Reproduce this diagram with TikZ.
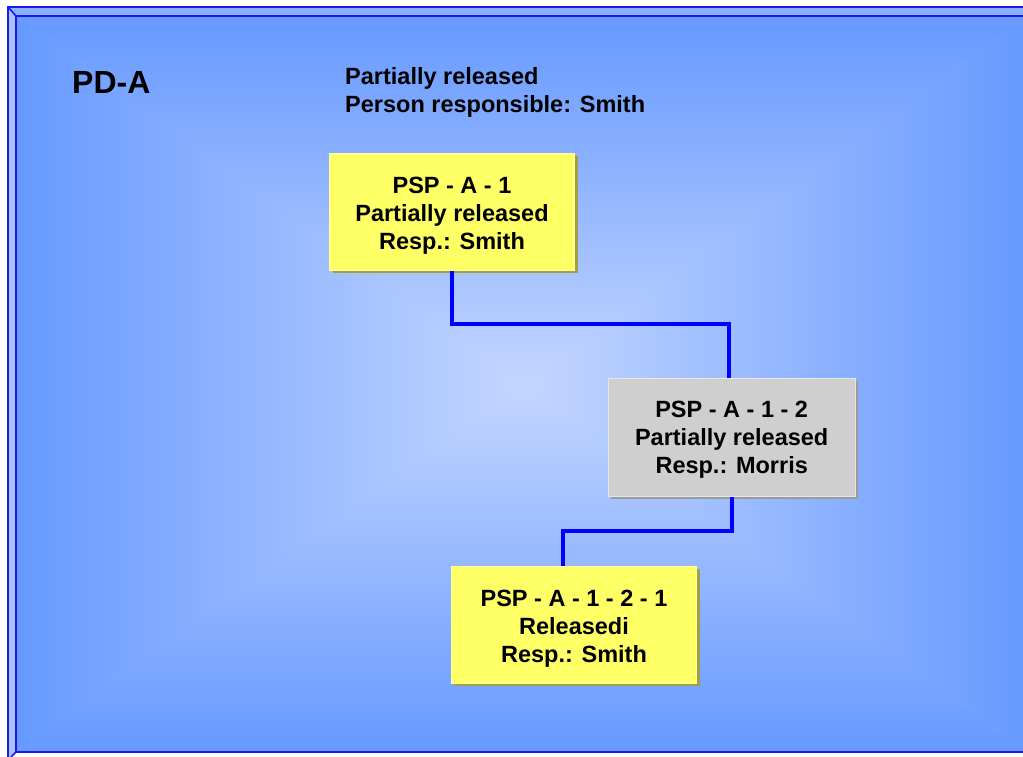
\documentclass[tikz,border=0pt]{standalone}
\usepackage{fontspec}
\setmainfont{Liberation Sans}
\begin{document}
\begin{tikzpicture}[x=1pt,y=-1pt,
  lbl/.style={font=\bfseries\fontsize{23.5}{28}\selectfont, inner sep=0pt, align=left},
  boxy/.style={fill=boxyellow, draw=boxyellow!60!white, line width=0.8pt, minimum width=245pt, minimum height=117pt, inner sep=0pt},
  boxg/.style={boxy, fill=boxgray, draw=boxgray!50!white},
  boxtxt/.style={inner sep=0pt, align=center, font=\bfseries\fontsize{23.5}{28}\selectfont},
  conn/.style={draw=connblue, line width=4pt, line join=miter},
  frameline/.style={draw=frameblue, line width=1.6pt}
]
\definecolor{edgeblue}{HTML}{6699FF}
\definecolor{centerblue}{HTML}{C4D6FF}
\definecolor{boxyellow}{HTML}{FFFF66}
\definecolor{boxgray}{HTML}{CFCFCF}
\definecolor{shadowolive}{HTML}{A0A040}
\definecolor{shadowgray}{HTML}{9A9A9A}
\definecolor{connblue}{HTML}{0000FF}
\definecolor{frameblue}{HTML}{1A1AF0}
\definecolor{bandtop}{HTML}{8CAEFF}
\definecolor{bandleft}{HTML}{A8C2FF}
\useasboundingbox (0,0) rectangle (1023,756);
\fill[white] (0,0) rectangle (1023,756);
% bevel bands
\fill[bandtop] (8,7) -- (1040,7) -- (1040,16) -- (16,16) -- cycle;
\fill[bandleft] (8,7) -- (16,16) -- (16,752) -- (8,760) -- cycle;
% inner rectangular gradient
\coordinate (ctr) at (523,384);
\fill[edgeblue!50!centerblue] (16,16) rectangle (1030,752);
\shade[top color=edgeblue, bottom color=centerblue] (16,16) -- (1030,16) -- (ctr) -- cycle;
\shade[top color=centerblue, bottom color=edgeblue] (16,752) -- (1030,752) -- (ctr) -- cycle;
\shade[left color=edgeblue, right color=centerblue] (16,16) -- (16,752) -- (ctr) -- cycle;
\shade[left color=centerblue, right color=edgeblue] (1030,16) -- (1030,752) -- (ctr) -- cycle;
% frame lines
\draw[frameline] (1040,7) -- (8,7) -- (8,760);
\draw[frameline] (1040,16) -- (16,16) -- (16,752) -- (1040,752);
\draw[frameline] (8,7) -- (16,16);
\draw[frameline] (16,752) -- (11,757);
% texts
\node[lbl, anchor=base west, font=\bfseries\fontsize{32}{36}\selectfont] (pda) at (72,93) {PD-A};
\node[lbl, anchor=base west] (hdr1) at (345,84) {Partially released};
\node[lbl, anchor=base west] (hdr2) at (345,112) {Person responsible: Smith};
% box shadows
\fill[shadowolive] (333,156) rectangle (578,273);
\fill[shadowgray] (611,381) rectangle (858,499);
\fill[shadowolive] (454,569) rectangle (700,686);
% connectors
\coordinate (b1s) at (452.3,270);
\coordinate (b2n) at (728.7,378.5);
\coordinate (b2s) at (731.5,496);
\coordinate (b3n) at (562.7,566);
\draw[conn] (b1s) -- (452.3,324.3) -| (b2n);
\draw[conn] (b2s) -- (731.5,530.7) -| (b3n);
% boxes
\node[boxy] (b1) at (452,211.7) {};
\node[boxg, minimum width=246.5pt, minimum height=118pt] (b2) at (731.7,437.2) {};
\node[boxy] (b3) at (574,624.5) {};
\node[boxtxt] (t1) at ([yshift=-4pt]b1.center) {PSP - A - 1\\Partially released\\Resp.: Smith};
\node[boxtxt] (t2) at ([yshift=-3pt]b2.center) {PSP - A - 1 - 2\\Partially released\\Resp.: Morris};
\node[boxtxt] (t3) at ([yshift=-4pt]b3.center) {PSP - A - 1 - 2 - 1\\Releasedi\\Resp.: Smith};
\end{tikzpicture}
\end{document}
